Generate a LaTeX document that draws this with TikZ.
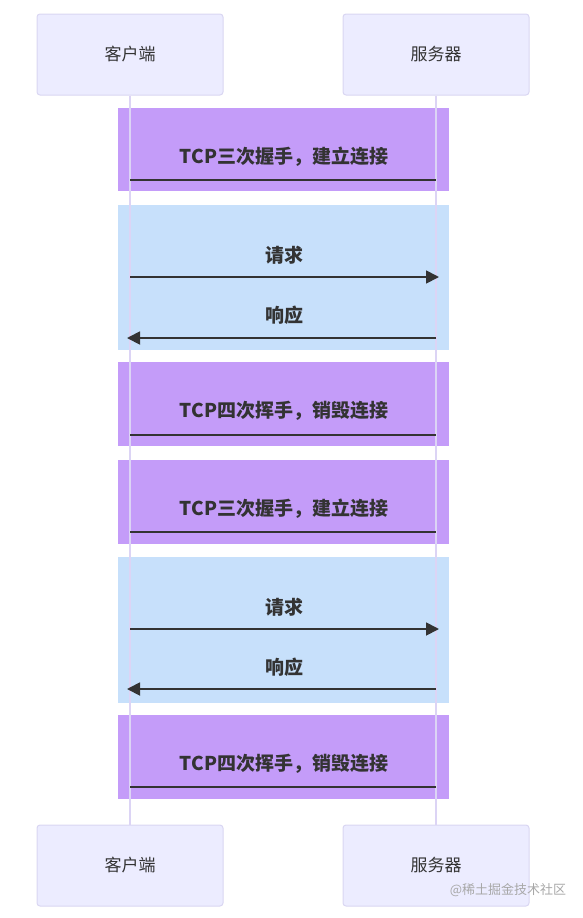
\documentclass[tikz,border=0pt]{standalone}
\usepackage{fontspec}
\setmainfont{Noto Sans CJK SC}
\usetikzlibrary{arrows.meta}
\definecolor{actorfill}{HTML}{ECECFF}
\definecolor{actorline}{HTML}{D9D6F2}
\definecolor{lifeline}{HTML}{DCD4F5}
\definecolor{purpleband}{HTML}{C49CF9}
\definecolor{blueband}{HTML}{C7E0FB}
\definecolor{msgcol}{HTML}{333333}
\definecolor{wmcol}{HTML}{A8A8A8}
\tikzset{
  actor/.style={draw=actorline, fill=actorfill, line width=1pt, rounded corners=3pt,
    minimum width=186pt, minimum height=81pt, inner sep=0pt,
    font=\fontsize{17}{19}\selectfont, text=msgcol},
  pband/.style={fill=purpleband, draw=none},
  bband/.style={fill=blueband, draw=none},
  life/.style={draw=lifeline, line width=1.2pt},
  msglabel/.style={font=\fontsize{19}{21}\selectfont\bfseries, text=msgcol, inner sep=0pt},
  plainmsg/.style={draw=msgcol, line width=1.8pt},
  arrowmsg/.style={draw=msgcol, line width=1.8pt, -{Triangle[length=13pt,width=13pt]}},
}
\begin{document}
\begin{tikzpicture}[x=1pt,y=-1pt]
\useasboundingbox (0,0) rectangle (582,918);
% bands
\path[pband] (118,108) rectangle (449,191);
\path[bband] (118,205) rectangle (449,350);
\path[pband] (118,362) rectangle (449,446);
\path[pband] (118,460) rectangle (449,544);
\path[bband] (118,557) rectangle (449,703);
\path[pband] (118,715) rectangle (449,799);
% actors
\node[actor] (c1) at (130,54.5) {客户端};
\node[actor] (s1) at (436,54.5) {服务器};
\node[actor] (c2) at (130,865.5) {客户端};
\node[actor] (s2) at (436,865.5) {服务器};
% lifelines
\draw[life] (c1.south) -- (c2.north);
\draw[life] (s1.south) -- (s2.north);
% coordinates on lifelines
\foreach \n/\y in {1/180,2/277,3/338,4/435,5/532,6/629,7/689,8/787}{
  \coordinate (cl\n) at (130,\y);
  \coordinate (sl\n) at (436,\y);
  \coordinate (st\n) at (439,\y);
  \coordinate (ct\n) at (127,\y);
}
% messages
\node[msglabel] (t1) at (284,157) {TCP三次握手，建立连接};
\draw[plainmsg] (cl1) -- (sl1);
\node[msglabel] (t2) at (284,255) {请求};
\draw[arrowmsg] (cl2) -- (st2);
\node[msglabel] (t3) at (284,315) {响应};
\draw[arrowmsg] (sl3) -- (ct3);
\node[msglabel] (t4) at (284,411) {TCP四次挥手，销毁连接};
\draw[plainmsg] (cl4) -- (sl4);
\node[msglabel] (t5) at (284,509) {TCP三次握手，建立连接};
\draw[plainmsg] (cl5) -- (sl5);
\node[msglabel] (t6) at (284,607) {请求};
\draw[arrowmsg] (cl6) -- (st6);
\node[msglabel] (t7) at (284,667) {响应};
\draw[arrowmsg] (sl7) -- (ct7);
\node[msglabel] (t8) at (284,764) {TCP四次挥手，销毁连接};
\draw[plainmsg] (cl8) -- (sl8);
% watermark
\node[font=\fontsize{13}{15}\selectfont, text=wmcol, inner sep=0pt] (wm) at (508,890) {@稀土掘金技术社区};
\end{tikzpicture}
\end{document}
